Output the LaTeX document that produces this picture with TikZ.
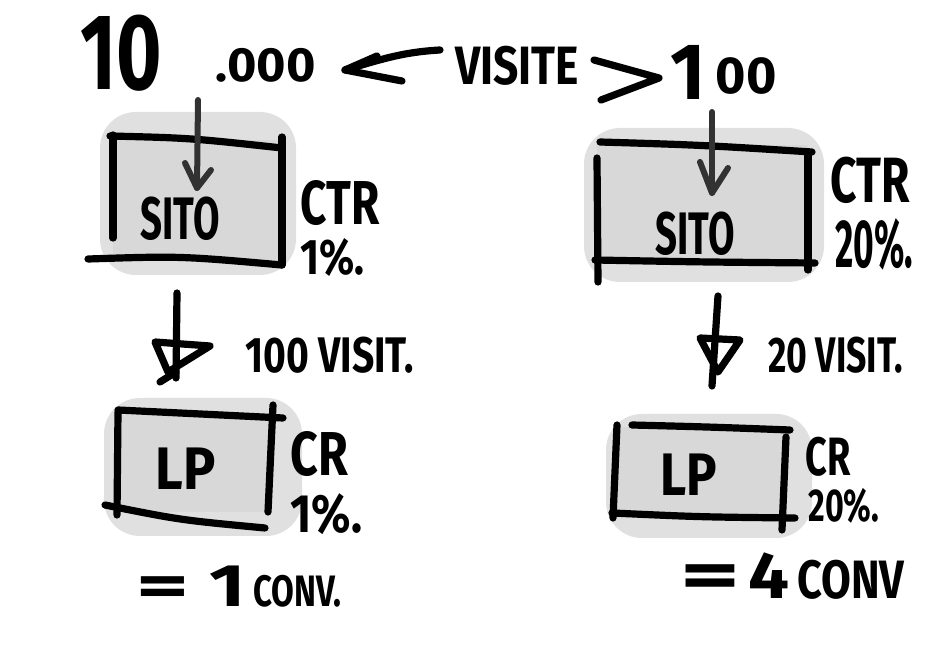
\documentclass[tikz,border=0pt]{standalone}
\usepackage{fontspec}
\usetikzlibrary{fit}
\setmainfont{Fira Sans}
\newcommand\hwtext[3]{\fontsize{#1}{#1}\selectfont\scalebox{#2}[1]{#3}}
\definecolor{boxfill}{RGB}{216,216,216}
\definecolor{shade}{RGB}{224,224,224}
\definecolor{arrowink}{RGB}{50,50,50}
\begin{document}
\begin{tikzpicture}[x=0.5pt,y=-0.5pt,line cap=round,line join=round,
  ink/.style={line width=3.6pt,black},
  thinink/.style={line width=3pt,arrowink},
  hand/.style={inner sep=0pt,anchor=base west,font=\bfseries},
  boxarea/.style={fill=boxfill,draw=none,inner sep=0pt},
  shadow/.style={fill=shade,draw=none,rounded corners=18pt}]
\useasboundingbox[fill=white] (0,0) rectangle (950,658);

% shadows
\fill[shadow] (100,112) rectangle (296,275);
\fill[shadow] (584,128) rectangle (824,282);
\fill[shadow] (104,398) rectangle (302,536);
\fill[shadow] (606,414) rectangle (812,538);

% boxes
\path (113,140) coordinate (a1) (282,260) coordinate (a2);
\node[boxarea,fit=(a1)(a2)] (sitoL) {};
\path (597,145) coordinate (b1) (808,263) coordinate (b2);
\node[boxarea,fit=(b1)(b2)] (sitoR) {};
\path (118,415) coordinate (c1) (270,512) coordinate (c2);
\node[boxarea,fit=(c1)(c2)] (lpL) {};
\path (616,427) coordinate (d1) (784,516) coordinate (d2);
\node[boxarea,fit=(d1)(d2)] (lpR) {};

% box outlines (sketchy)
\draw[ink] (110,136) .. controls (190,138) .. (282,148);
\draw[ink] (113,135) -- (113,238);
\draw[ink] (282,137) -- (282,265);
\draw[ink] (88,259) .. controls (180,256) .. (282,265);

\draw[ink] (600,142) .. controls (700,145) .. (812,152);
\draw[ink] (597,158) -- (598,282);
\draw[ink] (808,155) -- (808,270);
\draw[ink] (595,260) .. controls (700,262) .. (815,263);

\draw[ink] (118,410) .. controls (200,414) .. (283,418);
\draw[ink] (118,412) -- (117,515);
\draw[ink] (273,405) -- (268,512);
\draw[ink] (105,505) .. controls (180,520) .. (265,528);

\draw[ink] (632,425) .. controls (710,427) .. (790,430);
\draw[ink] (617,425) -- (613,518);
\draw[ink] (786,437) -- (782,530);
\draw[ink] (612,513) .. controls (700,517) .. (795,518);

% top texts
\node[hand] (n10000) at (80,90) {\hwtext{54}{0.72}{10}\hspace{27pt}\raisebox{4pt}{\hwtext{24}{1.05}{.000}}};
\node[hand] (visite) at (455,85) {\hwtext{27}{0.82}{VISITE}};
\node[hand] (n100) at (670,100) {\hwtext{40}{0.95}{1}\hspace{5pt}\raisebox{3pt}{\hwtext{26}{1.0}{00}}};

% left/right chevrons between texts
\coordinate (lt) at (345,70);
\coordinate (rt) at (659,78);
\coordinate (ls) at (440,50);
\draw[ink] (ls) .. controls (405,52) and (385,58) .. (lt);
\draw[ink] (377,56) -- (lt) -- (402,81);
\draw[ink] (594,60) -- (rt) -- (601,100);

% arrows into site boxes
\coordinate (sL) at (198,100);
\coordinate (eL) at (197,188);
\draw[thinink] (sL) -- (eL);
\draw[thinink] (185,163) -- (eL) -- (211,170);
\coordinate (sR) at (712,112);
\coordinate (eR) at (712,193);
\draw[thinink] (sR) -- (eR);
\draw[thinink] (700,162) -- (eR) -- (728,168);

% box texts
\node[hand] (sitoLt) at (140,240) {\hwtext{30}{0.64}{SITO}};
\node[hand] (sitoRt) at (655,255) {\hwtext{30}{0.64}{SITO}};
\node[hand] (lpLt) at (155,490) {\hwtext{30}{0.9}{LP}};
\node[hand] (lpRt) at (660,495) {\hwtext{30}{0.85}{LP}};

% rate labels
\node[hand] (ctrL) at (300,225) {\hwtext{31}{0.74}{CTR}};
\node[hand] (ctrLv) at (300,275) {\hwtext{25}{0.82}{1\%.}};
\node[hand] (ctrR) at (830,203) {\hwtext{32}{0.72}{CTR}};
\node[hand] (ctrRv) at (835,268) {\hwtext{34}{0.52}{20\%.}};
\node[hand] (crL) at (290,476) {\hwtext{31}{0.78}{CR}};
\node[hand] (crLv) at (290,532) {\hwtext{27}{0.85}{1\%.}};
\node[hand] (crR) at (805,476) {\hwtext{27}{0.7}{CR}};
\node[hand] (crRv) at (808,522) {\hwtext{23}{0.7}{20\%.}};

% down arrows
\coordinate (dL1) at (177,293);
\coordinate (dL2) at (176,378);
\draw[ink] (dL1) -- (dL2);
\draw[ink] (155,342) -- (210,346) -- (168,372) -- cycle;
\draw[ink] (160,382) -- (176,372);
\coordinate (dR1) at (718,296);
\coordinate (dR2) at (712,386);
\draw[ink] (dR1) -- (dR2);
\draw[ink] (700,338) -- (740,340) -- (718,372) -- cycle;

\node[hand] (visL) at (245,372) {\hwtext{25}{0.78}{100 VISIT.}};
\node[hand] (visR) at (768,372) {\hwtext{25}{0.71}{20 VISIT.}};

% results
\node[hand] (convL) at (136,607) {\hwtext{30}{1.7}{=}\hspace{10pt}\hwtext{30}{1.3}{1}\hspace{4pt}\hwtext{22}{0.75}{CONV.}};
\node[hand] (convR) at (680,598) {\hwtext{34}{1.7}{=}\hspace{4pt}\hwtext{33}{1.1}{4}\hspace{4pt}\hwtext{27}{0.8}{CONV}};
\end{tikzpicture}
\end{document}
